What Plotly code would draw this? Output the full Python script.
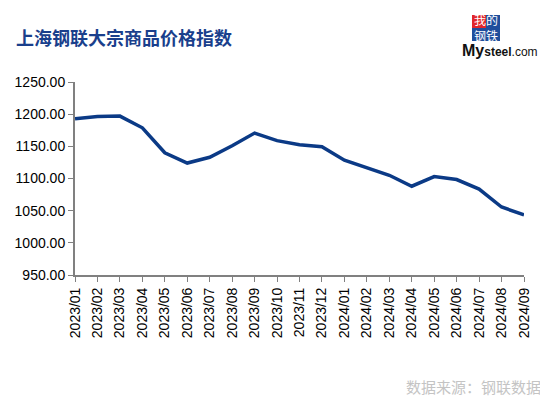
import plotly.graph_objects as go

months = ["2023/01","2023/02","2023/03","2023/04","2023/05","2023/06","2023/07","2023/08","2023/09","2023/10","2023/11","2023/12",
          "2024/01","2024/02","2024/03","2024/04","2024/05","2024/06","2024/07","2024/08","2024/09"]
index_values = [1192.7, 1196.5, 1197.0, 1178.8, 1140.0, 1124.0, 1133.0, 1151.0, 1170.6, 1158.8, 1152.6, 1149.5,
                1128.4, 1116.0, 1105.0, 1088.0, 1103.0, 1098.4, 1083.6, 1055.7, 1043.4]
y_ticks = [950, 1000, 1050, 1100, 1150, 1200, 1250]
y_tick_text = ["%.2f" % v for v in y_ticks]

title_text = "上海钢联大宗商品价格指数"
source_text = "数据来源：钢联数据"

# page body has an 8px margin, so the figure is drawn 8px smaller and positions are offset
OFF = 8
W, H = 548 - OFF, 397 - OFF
L, R, T, B = 75 - OFF, 24, 82 - OFF, 397 - 275

fig = go.Figure()
fig.add_trace(go.Scatter(x=months, y=index_values, mode="lines",
                         line=dict(color="#0B3A86", width=3.5), hoverinfo="x+y"))

fig.update_layout(
    width=W, height=H,
    margin=dict(l=L, r=R, t=T, b=B, autoexpand=False),
    paper_bgcolor="white", plot_bgcolor="white",
    showlegend=False,
    font=dict(family="Arial, Liberation Sans, sans-serif", size=14, color="#000000"),
)
fig.update_xaxes(type="category", range=[0, len(months) - 1], showgrid=False,
                 showline=True, linecolor="#808080", linewidth=2,
                 ticks="outside", ticklen=5, tickcolor="#808080", tickwidth=1,
                 tickangle=-90, tickfont=dict(size=14, color="#000000"))
fig.update_yaxes(range=[950, 1250], tickvals=y_ticks, ticktext=y_tick_text, showgrid=False,
                 showline=True, linecolor="#808080", linewidth=2,
                 ticks="outside", ticklen=5, tickcolor="#808080", tickwidth=1,
                 tickfont=dict(size=14, color="#000000"), zeroline=False)

def px_x(px):
    return (px - OFF - L) / (W - L - R)
def px_y(py):
    return (H - B - (py - OFF)) / (H - T - B)

fig.add_annotation(text="<b>" + title_text + "</b>", xref="paper", yref="paper",
                   x=px_x(14), xanchor="left", y=px_y(37), yanchor="middle", showarrow=False,
                   font=dict(family="Noto Sans CJK SC", size=18, color="#1A3F8C"))
fig.add_annotation(text=source_text, xref="paper", yref="paper",
                   x=px_x(543), xanchor="right", y=px_y(386), yanchor="middle", showarrow=False,
                   font=dict(family="Noto Sans CJK SC", size=15, color="#C4C4C4"))

# logo
box_colors = ["#E0262B", "#1F4E9C", "#1F4E9C", "#1F4E9C"]
cells = [(472, 15), (486, 15), (472, 28), (486, 28)]
for col, (cx, cy) in zip(box_colors, cells):
    fig.add_shape(type="rect", xref="paper", yref="paper",
                  x0=px_x(cx), x1=px_x(cx + 14), y0=px_y(cy + 13), y1=px_y(cy),
                  fillcolor=col, line=dict(width=0), layer="above")
fig.add_annotation(text="我的<br>钢铁", xref="paper", yref="paper",
                   x=px_x(486), y=px_y(28), xanchor="center", yanchor="middle",
                   showarrow=False, borderpad=0,
                   font=dict(family="Noto Sans CJK SC", size=12, color="white"))
fig.add_annotation(text="<b><span style='font-size:16px'>My</span>steel</b>.com", xref="paper", yref="paper",
                   x=px_x(500), y=px_y(50), xanchor="center", yanchor="middle", showarrow=False,
                   font=dict(family="Arial, Liberation Sans", size=12, color="#111111"))

fig.write_html("out.html")
